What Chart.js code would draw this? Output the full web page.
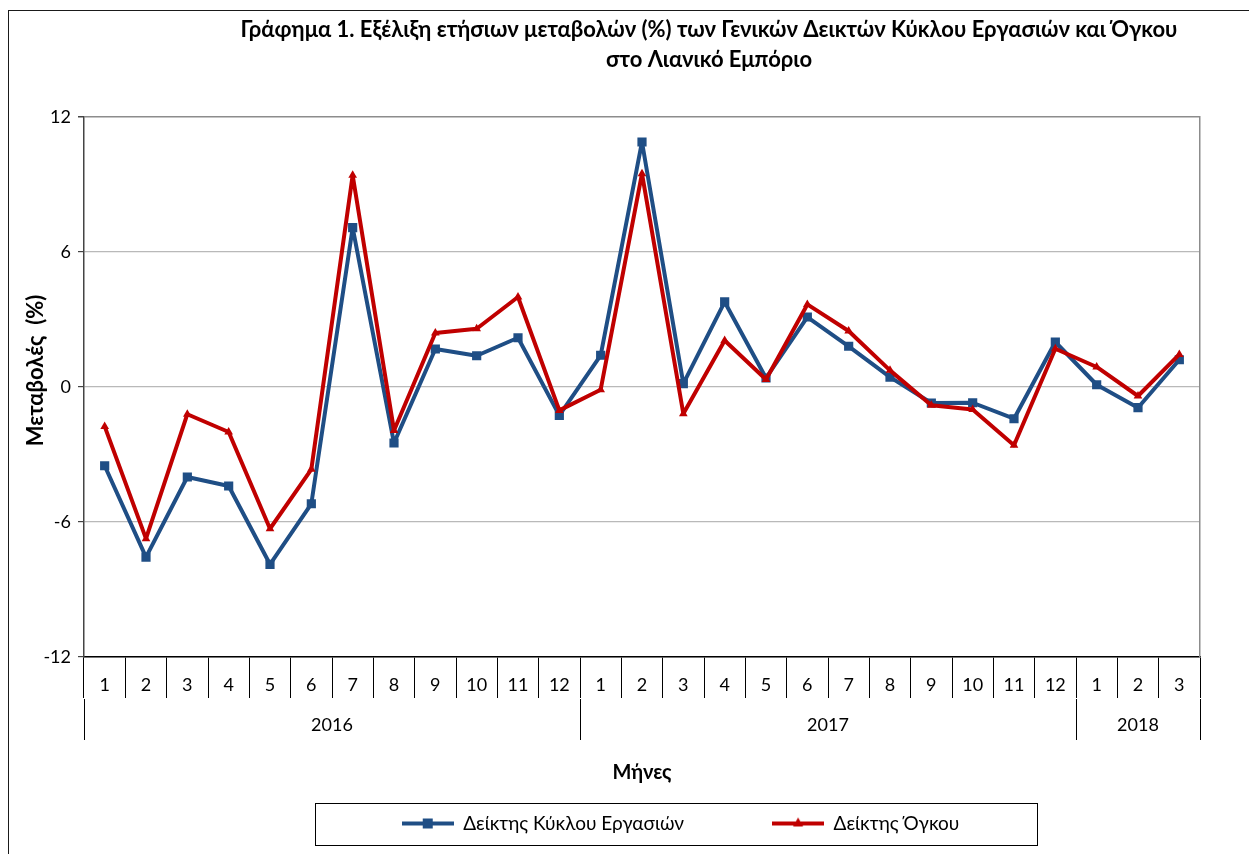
<!DOCTYPE html>
<html>
<head>
<meta charset="utf-8">
<script src="https://cdn.jsdelivr.net/npm/chart.js@4.4.1/dist/chart.umd.min.js"></script>
<style>
  html, body { margin: 0; padding: 0; background: #fff; overflow: hidden; }
  #frame { position: absolute; left: 8px; top: 10px; width: 1400px; height: 900px; border: 1px solid #1a1a1a; }
  canvas { display: block; }
</style>
</head>
<body>
<div id="frame"><canvas id="myChart" width="1400" height="843"></canvas></div>
<script>
// month labels along the x-axis
var months = ['1','2','3','4','5','6','7','8','9','10','11','12',
              '1','2','3','4','5','6','7','8','9','10','11','12',
              '1','2','3'];
// second row of the x-axis
var years = ['2016', '2017', '2018'];
var monthsPerYear = [12, 12, 3];
// yearly change (%)
var turnover = [-3.50, -7.56, -4.00, -4.40, -7.88, -5.19, 7.08, -2.49, 1.69, 1.39, 2.19, -1.26,
                1.41, 10.89, 0.15, 3.78, 0.40, 3.11, 1.81, 0.44, -0.71, -0.70, -1.41, 2.00,
                0.10, -0.92, 1.21];
var volume = [-1.75, -6.74, -1.21, -2.00, -6.30, -3.66, 9.41, -1.93, 2.40, 2.59, 4.00, -1.04,
              -0.12, 9.48, -1.19, 2.07, 0.33, 3.67, 2.49, 0.74, -0.81, -1.00, -2.59, 1.70,
              0.89, -0.40, 1.45];
var seriesNames = ['Δείκτης Κύκλου Εργασιών', 'Δείκτης Όγκου'];

// where each year starts / ends and where its label sits, counted in months
var bounds = [0];
var yearMid = {};
monthsPerYear.forEach(function (n, i) {
  var start = bounds[bounds.length - 1];
  yearMid[start + n / 2] = years[i];
  bounds.push(start + n);
});
var yearTicks = bounds.concat(Object.keys(yearMid).map(Number)).sort(function (a, b) { return a - b; });

var EN = '\u2002';

// little line+marker picture for the legend
function legendSample(color, style) {
  var c = document.createElement('canvas');
  c.width = 52; c.height = 14;
  var g = c.getContext('2d');
  g.strokeStyle = color; g.lineWidth = 4;
  g.beginPath(); g.moveTo(0, 7); g.lineTo(52, 7); g.stroke();
  g.fillStyle = color;
  if (style === 'rect') {
    g.fillRect(21, 2, 10, 10);
  } else {
    g.beginPath(); g.moveTo(26, 1); g.lineTo(31, 10); g.lineTo(21, 10); g.closePath(); g.fill();
  }
  return c;
}

// frame round the legend
var legendFrame = {
  id: 'legendFrame',
  afterDraw: function (chart) {
    var boxes = chart.legend.legendHitBoxes;
    if (!boxes || !boxes.length) return;
    var first = boxes[0];
    var cy = first.top + first.height / 2;
    var ctx = chart.ctx;
    ctx.save();
    ctx.strokeStyle = '#000';
    ctx.lineWidth = 1;
    ctx.strokeRect(Math.round(first.left - 87) + 0.5, Math.round(cy - 21) + 0.5, 722, 42);
    ctx.restore();
  }
};

Chart.defaults.font.family = 'Lato, "Open Sans", sans-serif';
Chart.defaults.color = '#000';

var ctx = document.getElementById('myChart');
var myChart = new Chart(ctx, {
  type: 'line',
  data: {
    labels: months,
    datasets: [
      {
        label: seriesNames[0],
        data: turnover,
        borderColor: '#1f4e85',
        backgroundColor: '#1f4e85',
        borderWidth: 4,
        borderJoinStyle: 'round',
        pointStyle: 'rect',
        pointRadius: 6.5,
        pointBorderWidth: 0,
        fill: false,
        order: 1
      },
      {
        label: seriesNames[1],
        data: volume,
        borderColor: '#c00000',
        backgroundColor: '#c00000',
        borderWidth: 4,
        borderJoinStyle: 'round',
        pointStyle: 'triangle',
        pointRadius: 5,
        pointBorderWidth: 0,
        fill: false,
        order: 0
      }
    ]
  },
  options: {
    responsive: false,
    animation: false,
    layout: { padding: { left: 0, right: 0, top: 0, bottom: 11 } },
    plugins: {
      tooltip: { enabled: false },
      title: {
        display: true,
        text: ['Γράφημα 1. Εξέλιξη ετήσιων μεταβολών (%) των Γενικών Δεικτών Κύκλου Εργασιών και Όγκου',
               'στο Λιανικό Εμπόριο'],
        color: '#000',
        font: { size: 22, weight: 'bold', lineHeight: '30px' },
        padding: { top: 4, bottom: 42 }
      },
      legend: {
        position: 'bottom',
        labels: {
          usePointStyle: true,
          pointStyleWidth: 52,
          padding: 12,
          color: '#000',
          font: { size: 19 },
          generateLabels: function (chart) {
            return chart.data.datasets.map(function (ds, i) {
              return {
                text: ds.label + EN.repeat(i === 0 ? 8 : 6),
                fillStyle: ds.borderColor,
                strokeStyle: ds.borderColor,
                lineWidth: 0,
                pointStyle: legendSample(ds.borderColor, ds.pointStyle),
                fontColor: '#000',
                hidden: false,
                datasetIndex: i
              };
            });
          }
        }
      }
    },
    scales: {
      x: {
        type: 'category',
        offset: true,
        grid: { offset: true, drawOnChartArea: false, tickLength: 41, color: '#000', lineWidth: 1 },
        border: { color: '#000', width: 1.5 },
        ticks: { autoSkip: false, maxRotation: 0, padding: -24, color: '#000', font: { size: 18 } },
        afterFit: function (s) { s.height = 42; }
      },
      x2: {
        type: 'linear',
        axis: 'x',
        position: 'bottom',
        min: bounds[0],
        max: bounds[bounds.length - 1],
        afterBuildTicks: function (s) {
          s.ticks = yearTicks.map(function (v) { return { value: v }; });
        },
        grid: {
          drawOnChartArea: false,
          tickLength: 41,
          color: function (c) {
            return c.tick && bounds.indexOf(c.tick.value) >= 0 ? '#000' : 'rgba(0,0,0,0)';
          }
        },
        border: { display: false },
        ticks: {
          autoSkip: false,
          maxRotation: 0,
          padding: -26,
          color: '#000',
          font: { size: 18 },
          callback: function (v) { return yearMid[v] || ''; }
        },
        title: {
          display: true,
          text: 'Μήνες',
          color: '#000',
          font: { size: 20, weight: 'bold' },
          padding: { top: 0, bottom: 17 }
        },
        afterFit: function (s) { s.height = 103; }
      },
      y: {
        min: -12,
        max: 12,
        ticks: { stepSize: 6, padding: 7, color: '#000', font: { size: 18 } },
        grid: {
          color: function (c) { return c.tick && c.tick.value === 12 ? '#8c8c8c' : '#b9b9b9'; },
          lineWidth: function (c) { return c.tick && c.tick.value === 12 ? 1.5 : 1.2; },
          tickLength: 6,
          tickColor: '#444'
        },
        border: { color: '#444', width: 1.5 },
        title: {
          display: true,
          text: EN + EN + EN + 'Μεταβολές  (%)',
          color: '#000',
          font: { size: 22, weight: 'bold' },
          padding: { top: 14, bottom: 0 }
        },
        afterFit: function (s) { s.width = 75; }
      },
      y2: {
        position: 'right',
        min: -12,
        max: 12,
        grid: { display: false },
        ticks: { display: false },
        border: { color: '#8c8c8c', width: 1.5 },
        afterFit: function (s) { s.width = 209; }
      }
    }
  },
  plugins: [legendFrame]
});
</script>
</body>
</html>
